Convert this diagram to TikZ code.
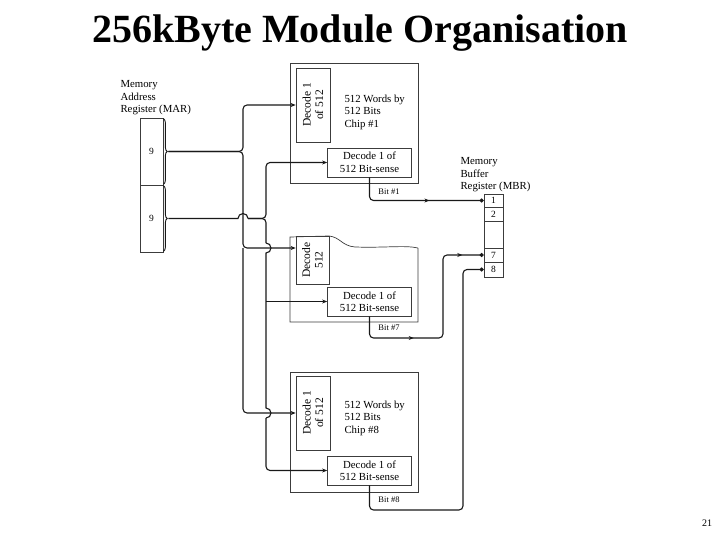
\documentclass[tikz,border=0pt]{standalone}
\usepackage{fontspec}
\setmainfont{Liberation Serif}
\usepackage{tikz}
\usetikzlibrary{arrows.meta,positioning,calc,decorations.pathreplacing,decorations.markings}

\definecolor{wireBlack}{RGB}{25,25,25}
\definecolor{boxGray}{RGB}{60,60,60}

\tikzset{
  box/.style={draw=boxGray, line width=0.7pt, inner sep=0pt},
  wire/.style={draw=wireBlack, line width=1.1pt},
  txt/.style={font=\fontsize{10.8}{12.5}\selectfont, align=left},
  rottxt/.style={font=\fontsize{11.5}{12.5}\selectfont, align=center, rotate=90},
  bitlbl/.style={font=\fontsize{8.5}{10}\selectfont},
  tip/.style={-{Stealth[length=5pt,width=4pt]}},
  dot/.style={-{Circle[length=4pt]}},
  midarrow/.style={postaction={decorate},
    decoration={markings, mark=at position #1 with {\arrow{Stealth[length=5pt,width=4pt]}}}},
  midarrows/.style 2 args={postaction={decorate},
    decoration={markings,
      mark=at position #1 with {\arrow{Stealth[length=5pt,width=4pt]}},
      mark=at position #2 with {\arrow{Stealth[length=5pt,width=4pt]}}}},
}

\begin{document}
\begin{tikzpicture}[x=1pt,y=-1pt]
  \useasboundingbox (0,0) rectangle (720,540);
  % Title and page number
  \node[font=\fontsize{40}{44}\selectfont\bfseries] (title) at (360,33) {256kByte Module Organisation};
  \node[font=\fontsize{10}{12}\selectfont] (pageno) at (707,523) {21};

  % Memory address register
  \node[txt, anchor=north west] (marlbl) at (117,77) {Memory\\Address\\Register (MAR)};
  \node[box, minimum width=23pt, minimum height=67pt, font=\fontsize{9.5}{10}\selectfont] (mar1) at (151.5,151.5) {9};
  \node[box, minimum width=23pt, minimum height=67pt, font=\fontsize{9.5}{10}\selectfont] (mar2) at (151.5,218.5) {9};
  \draw[wire, line width=0.9pt, decorate, decoration={brace, amplitude=4pt}]
    ([yshift=-1pt]mar1.north east) -- ([yshift=1pt]mar1.south east);
  \draw[wire, line width=0.9pt, decorate, decoration={brace, amplitude=4pt}]
    ([yshift=-1pt]mar2.north east) -- ([yshift=1pt]mar2.south east);
  \coordinate (rowtap) at ([xshift=5pt]mar1.east);
  \coordinate (coltap) at ([xshift=5pt]mar2.east);

  % Chip #1
  \node[box, minimum width=128pt, minimum height=120pt] (chip1) at (354,123) {};
  \node[box, minimum width=34pt, minimum height=74pt] (dec1) at (313,105) {};
  \node[rottxt] (dec1txt) at (dec1) {Decode 1\\of 512};
  \node[txt, anchor=north west] (words1) at (341,91) {512 Words by\\512 Bits\\Chip \#1};
  \node[box, txt, align=center, minimum width=84pt, minimum height=29pt] (bs1) at (369.5,162.5) {Decode 1 of\\512 Bit-sense};

  % Chip #7 (top edge torn off)
  \draw[box] (418,248) -- (418,322) -- (290,322) -- (290,237) -- (329,236)
    .. controls (340,237) and (342,246) .. (355,247)
    .. controls (385,248) and (405,245) .. (418,248);
  \node[box, minimum width=33pt, minimum height=48pt] (dec7) at (312.5,260) {};
  \node[rottxt] (dec7txt) at (dec7) {Decode\\512};
  \node[box, txt, align=center, minimum width=84pt, minimum height=29pt] (bs7) at (369.5,301.5) {Decode 1 of\\512 Bit-sense};
  \coordinate (dec7in) at (dec7.west |- 0,248);

  % Chip #8
  \node[box, minimum width=128pt, minimum height=120pt] (chip8) at (354,432) {};
  \node[box, minimum width=34pt, minimum height=74pt] (dec8) at (313,413) {};
  \node[rottxt] (dec8txt) at (dec8) {Decode 1\\of 512};
  \node[txt, anchor=north west] (words8) at (341,397) {512 Words by\\512 Bits\\Chip \#8};
  \node[box, txt, align=center, minimum width=84pt, minimum height=29pt] (bs8) at (369.5,470.5) {Decode 1 of\\512 Bit-sense};

  % Memory buffer register
  \node[txt, anchor=north west] (mbrlbl) at (457,154) {Memory\\Buffer\\Register (MBR)};
  \node[box, minimum width=19pt, minimum height=13pt, font=\fontsize{9.5}{10}\selectfont] (mbr1) at (493.5,200.5) {1};
  \node[box, minimum width=19pt, minimum height=14pt, font=\fontsize{9.5}{10}\selectfont] (mbr2) at (493.5,214) {2};
  \node[box, minimum width=19pt, minimum height=27pt] (mbrgap) at (493.5,234.5) {};
  \node[box, minimum width=19pt, minimum height=14pt, font=\fontsize{9.5}{10}\selectfont] (mbr7) at (493.5,255) {7};
  \node[box, minimum width=19pt, minimum height=15pt, font=\fontsize{9.5}{10}\selectfont] (mbr8) at (493.5,269.5) {8};

  % Row address bus
  \coordinate (rowx) at (243,0);
  \coordinate (colx) at (266,0);
  \draw[wire, rounded corners=4pt, tip] (rowtap) -- (rowtap -| rowx) -- (rowx |- dec1.west) -- (dec1.west);
  \draw[wire, rounded corners=4pt, tip] (rowtap) -- (rowtap -| rowx) -- (rowx |- dec7in) -- (dec7in);
  \draw[wire, rounded corners=4pt, tip] (rowx |- dec7in) -- (rowx |- dec8.west) -- (dec8.west);

  % Column address bus (hops over the row lines)
  \draw[wire] (coltap) -- ([xshift=-5pt]coltap -| rowx) arc[start angle=180, end angle=0, radius=5pt] coordinate (hopend);
  \draw[wire, rounded corners=4pt, tip] (hopend) -- (coltap -| colx) -- (colx |- bs1.west) -- (bs1.west);
  \draw[wire, rounded corners=4pt] (hopend) -- (coltap -| colx) -- ([yshift=5pt]colx |- dec7in);
  \draw[wire] ([yshift=5pt]colx |- dec7in) arc[start angle=90, end angle=-90, radius=5pt]
    -- ([yshift=5pt]colx |- dec8.west) arc[start angle=90, end angle=-90, radius=5pt] coordinate (hop2end);
  \draw[wire, rounded corners=4pt, tip] (hop2end) -- (colx |- bs8.west) -- (bs8.west);
  \draw[wire, tip] (colx |- bs7.west) -- (bs7.west);

  % Bit lines to MBR
  \coordinate (b7turn) at (443,338);
  \coordinate (b8turn) at (463,510);
  \draw[wire, rounded corners=4pt, dot, midarrow=0.6] (bs1.south) |- (mbr1.west);
  \draw[wire, rounded corners=4pt, dot, midarrows={0.3}{0.9}] (bs7.south) |- (b7turn) |- (mbr7.west);
  \draw[wire, rounded corners=4pt, dot] (bs8.south) |- (b8turn) |- (mbr8.west);
  \node[bitlbl] (bit1) at (389,192) {Bit \#1};
  \node[bitlbl] (bit7) at (389,328) {Bit \#7};
  \node[bitlbl] (bit8) at (389,500) {Bit \#8};
\end{tikzpicture}
\end{document}
